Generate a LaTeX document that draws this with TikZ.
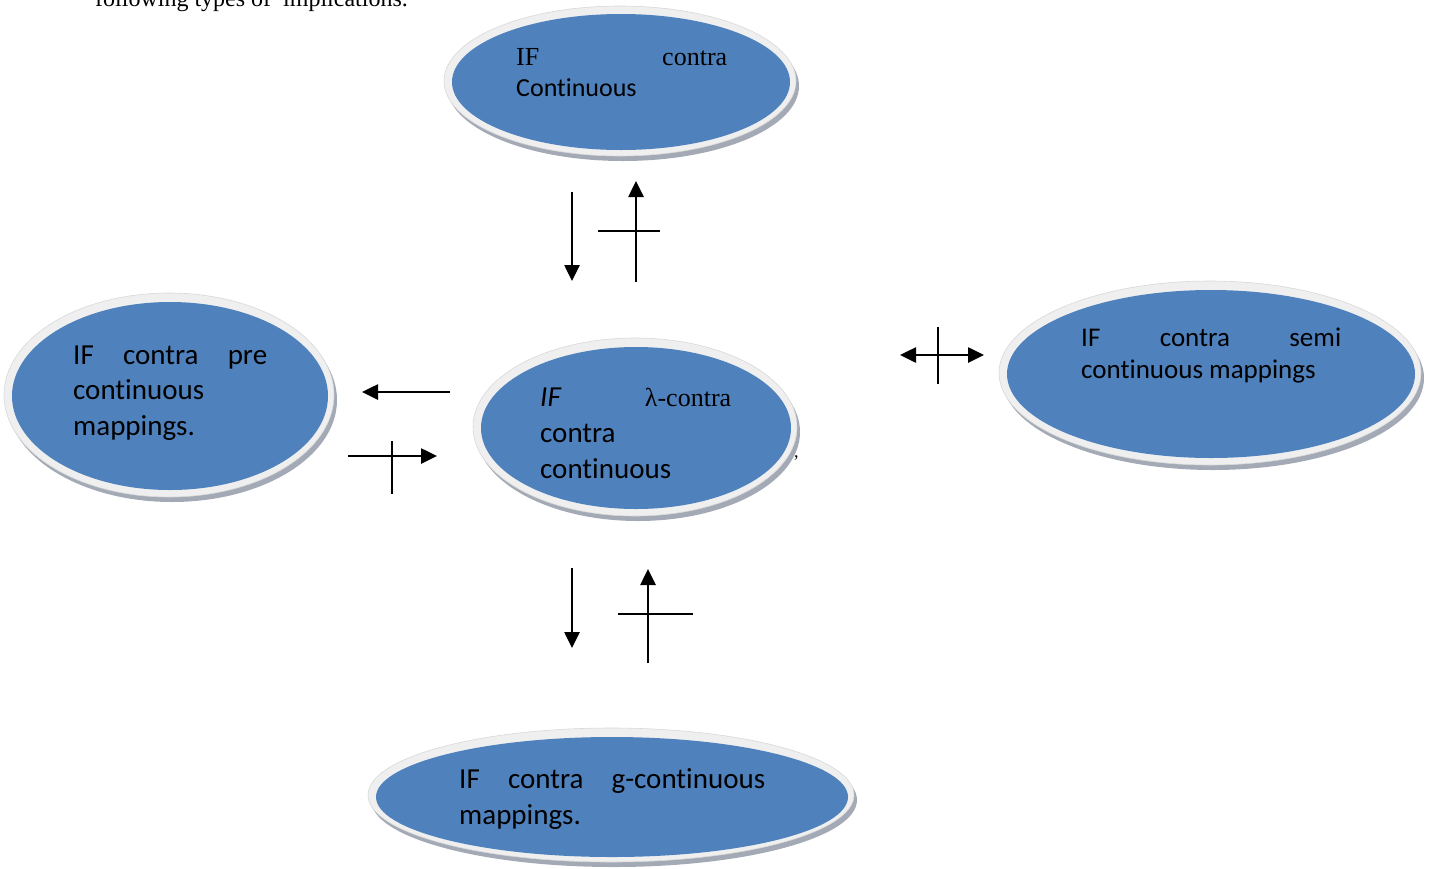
\documentclass[tikz,border=0pt]{standalone}
\usepackage{fontspec}
\setmainfont{Carlito}[Ligatures=NoCommon,RawFeature={-liga;-clig;-dlig;-calt}]
\newfontfamily\tms{Liberation Serif}
\usetikzlibrary{shapes.geometric,shadows,arrows.meta}
\newcommand\tiA{t\kern0pt i}
\definecolor{myblue}{HTML}{4F81BD}
\definecolor{ringgray}{HTML}{EFEFEF}
\definecolor{ringedge}{HTML}{D8D8D8}
\definecolor{shadowgray}{HTML}{A3AAB6}
\tikzset{
  ringbox/.style={ellipse, inner sep=0pt, fill=ringgray, draw=ringedge, line width=0.6pt,
     drop shadow={shadow xshift=3pt, shadow yshift=-5pt, fill=shadowgray, opacity=1}},
  bluebox/.style={ellipse, inner sep=0pt, fill=myblue, draw=none},
  txt/.style={anchor=base west, inner sep=0pt, font=\fontsize{29}{34}\selectfont},
  shaft/.style={line width=2.6pt, -{Triangle[length=16pt,width=15pt]}},
  dshaft/.style={line width=2.6pt, {Triangle[length=16pt,width=15pt]}-{Triangle[length=16pt,width=15pt]}},
  bar/.style={line width=1.8pt}
}
\begin{document}
\begin{tikzpicture}[x=1pt,y=-1pt]
\useasboundingbox (0,0) rectangle (1434,868);
\clip (0,0) rectangle (1434,868);
% header text (cut off at the top edge, as in the reference)
\node[anchor=base west, inner sep=0pt, font=\tms\fontsize{24}{28}\selectfont] (hdr) at (95,6) {following types of\ \ implications.};
% top ellipse
\node[ringbox, minimum width=352pt, minimum height=150pt] (topR) at (620,81) {};
\node[bluebox, minimum width=338pt, minimum height=136pt] (top) at (621,82) {};
\node[txt, font=\fontsize{26}{30}\selectfont] (t1) at (516,65) {\makebox[211pt][s]{\tms IF contra}};
\node[txt, font=\fontsize{26}{30}\selectfont] (t2) at (516,96) {Con\tiA nuous};
% centre ellipse
\node[ringbox, minimum width=324pt, minimum height=178pt] (midR) at (635,427) {};
\node[bluebox, minimum width=310pt, minimum height=162pt] (mid) at (636,428) {};
\node[txt] (m1) at (540,406) {\makebox[191pt][s]{\textit{IF} {\tms\fontsize{26}{30}\selectfont λ-contra}}};
\node[txt] (m2) at (540,442) {contra};
\node[txt] (m3) at (540,478) {con\tiA nuous};
\node[anchor=base west, inner sep=0pt, font=\tms\fontsize{18}{20}\selectfont] (comma) at (794,457) {,};
% left ellipse
\node[ringbox, minimum width=330pt, minimum height=204pt] (leftR) at (169,395) {};
\node[bluebox, minimum width=316pt, minimum height=188pt] (left) at (170,396) {};
\node[txt] (l1) at (73,364) {\makebox[194pt][s]{IF contra pre}};
\node[txt] (l2) at (73,399) {con\tiA nuous};
\node[txt] (l3) at (73,435) {mappings.};
% right ellipse
\node[ringbox, minimum width=422pt, minimum height=184pt] (rightR) at (1210,373) {};
\node[bluebox, minimum width=408pt, minimum height=168pt] (right) at (1211,374) {};
\node[txt, font=\fontsize{27}{31}\selectfont] (r1) at (1081,346) {\makebox[260pt][s]{IF contra semi}};
\node[txt, font=\fontsize{27}{31}\selectfont] (r2) at (1081,378) {con\tiA nuous mappings};
% bottom ellipse
\node[ringbox, minimum width=486pt, minimum height=134pt] (botR) at (611,795) {};
\node[bluebox, minimum width=472pt, minimum height=120pt] (bot) at (612,797) {};
\node[txt] (b1) at (459,788) {\makebox[306pt][s]{IF contra g-con\tiA nuous}};
\node[txt] (b2) at (459,824) {mappings.};
% top arrows
\coordinate (a1s) at (572,192); \coordinate (a1e) at (572,281);
\coordinate (a2s) at (636,282); \coordinate (a2e) at (636,181);
\coordinate (c1s) at (598,231); \coordinate (c1e) at (660,231);
\draw[shaft] (a1s) -- (a1e);
\draw[shaft] (a2s) -- (a2e);
\draw[bar] (c1s) -- (c1e);
% bottom arrows
\coordinate (a3s) at (572,568); \coordinate (a3e) at (572,648);
\coordinate (a4s) at (648,663); \coordinate (a4e) at (648,569);
\coordinate (c2s) at (618,614); \coordinate (c2e) at (693,614);
\draw[shaft] (a3s) -- (a3e);
\draw[shaft] (a4s) -- (a4e);
\draw[bar] (c2s) -- (c2e);
% left arrows
\coordinate (a5s) at (450,392); \coordinate (a5e) at (362,392);
\coordinate (a6s) at (348,456); \coordinate (a6e) at (437,456);
\coordinate (c3s) at (392,441); \coordinate (c3e) at (392,494);
\draw[shaft] (a5s) -- (a5e);
\draw[shaft] (a6s) -- (a6e);
\draw[bar] (c3s) -- (c3e);
% right double arrow
\coordinate (a7s) at (900,355); \coordinate (a7e) at (984,355);
\coordinate (c4s) at (938,327); \coordinate (c4e) at (938,384);
\draw[dshaft] (a7s) -- (a7e);
\draw[bar] (c4s) -- (c4e);
\end{tikzpicture}
\end{document}
